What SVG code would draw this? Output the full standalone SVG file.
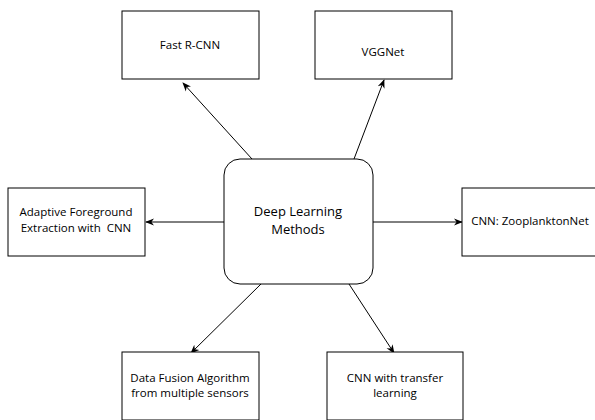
<svg xmlns="http://www.w3.org/2000/svg" width="595" height="420" viewBox="0 0 595 420">
<style>
.box{fill:#fff;stroke:#000;stroke-width:1}
.t{font-family:"Open Sans",sans-serif;font-size:11.5px;fill:#000;text-anchor:middle}
.big{font-size:13px}
.c{stroke:#000;stroke-width:1;fill:none;marker-end:url(#ah)}
</style>
<defs>
<marker id="ah" viewBox="0 0 10 10" refX="9" refY="5" markerWidth="9" markerHeight="9" markerUnits="userSpaceOnUse" orient="auto">
<path d="M0,1 L10,5 L0,9 L3,5 Z" fill="#000"/>
</marker>
</defs>
<rect width="595" height="420" fill="#fff"/>
<g id="connectors">
<line class="c" x1="252" y1="159" x2="183" y2="83"/>
<line class="c" x1="354" y1="159" x2="384" y2="80"/>
<line class="c" x1="224" y1="222" x2="146" y2="222"/>
<line class="c" x1="373" y1="222" x2="462" y2="222"/>
<line class="c" x1="261" y1="284" x2="191" y2="353"/>
<line class="c" x1="349" y1="284" x2="394" y2="353"/>
</g>
<g id="center">
<rect class="box" x="224" y="159" width="149" height="125" rx="16"/>
<text class="t big" x="298" y="216">Deep Learning</text>
<text class="t big" x="298" y="234">Methods</text>
</g>
<g id="fastrcnn">
<rect class="box" x="122" y="11" width="137" height="68"/>
<text class="t" x="190" y="49">Fast R-CNN</text>
</g>
<g id="vggnet">
<rect class="box" x="315" y="11" width="137" height="68"/>
<text class="t" x="383" y="56">VGGNet</text>
</g>
<g id="adaptive">
<rect class="box" x="8" y="188" width="137" height="68"/>
<text class="t" x="76" y="216">Adaptive Foreground</text>
<text class="t" x="76" y="232">Extraction with&#160; CNN</text>
</g>
<g id="zooplankton">
<rect class="box" x="462" y="188" width="137" height="68"/>
<text class="t" x="530" y="225">CNN: ZooplanktonNet</text>
</g>
<g id="datafusion">
<rect class="box" x="122" y="352" width="137" height="68"/>
<text class="t" x="190" y="382">Data Fusion Algorithm</text>
<text class="t" x="190" y="397">from multiple sensors</text>
</g>
<g id="transfer">
<rect class="box" x="327" y="352" width="136" height="68"/>
<text class="t" x="395" y="382">CNN with transfer</text>
<text class="t" x="395" y="397">learning</text>
</g>
</svg>
